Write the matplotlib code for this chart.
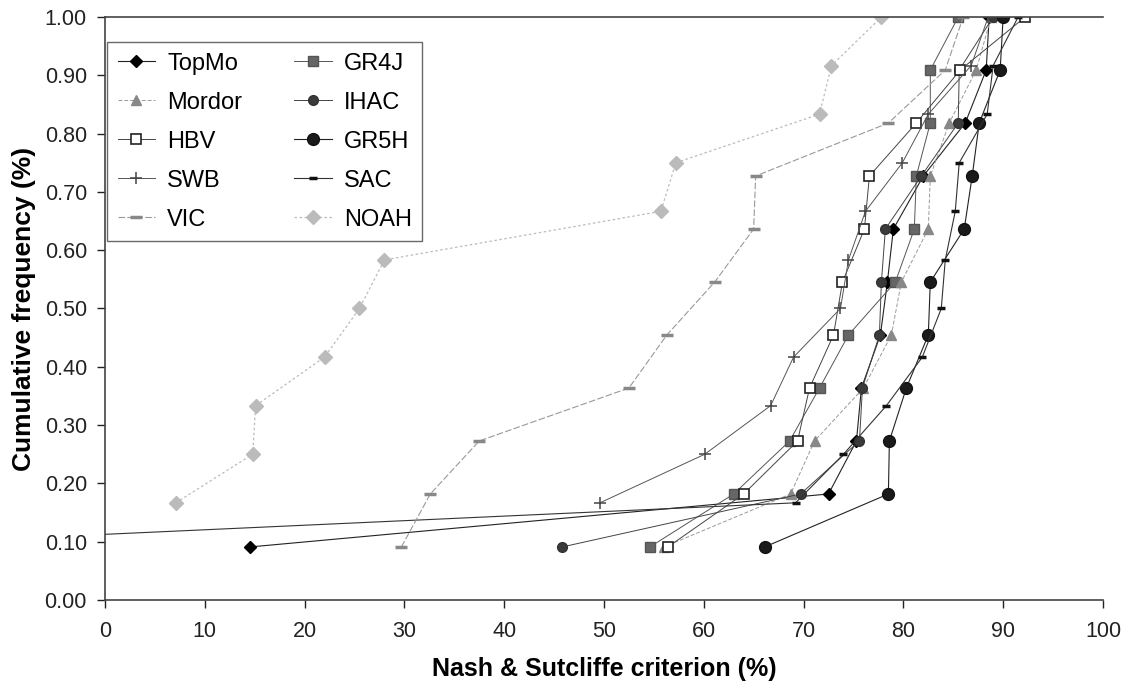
import matplotlib
matplotlib.use("Agg")
import matplotlib.pyplot as plt
import numpy as np

plt.rcParams['font.family'] = ['Liberation Sans', 'DejaVu Sans']

# cumulative frequency levels
freq11 = [i / 11 for i in range(1, 12)]
freq12_from2 = [i / 12 for i in range(2, 13)]
freq12 = [i / 12 for i in range(1, 13)]

# Nash & Sutcliffe values (%)
topmo = [14.5, 72.5, 75.3, 75.8, 77.7, 78.4, 79.0, 82.0, 86.2, 88.3, 88.6]
gr4j = [54.6, 63.0, 68.6, 71.6, 74.5, 79.2, 81.1, 81.3, 82.7, 82.7, 85.5]
mordor = [56.0, 68.7, 71.1, 76.0, 78.8, 79.8, 82.5, 82.7, 84.6, 87.3, 88.8]
ihac = [45.8, 69.7, 75.6, 75.9, 77.6, 77.8, 78.2, 81.8, 85.5, 85.6, 89.0]
hbv = [56.4, 64.0, 69.4, 70.6, 73.0, 73.9, 76.1, 76.6, 81.3, 85.7, 92.2]
gr5h = [66.1, 78.5, 78.6, 80.3, 82.5, 82.7, 86.1, 86.9, 87.6, 89.7, 90.0]
swb = [49.6, 60.1, 66.7, 69.0, 73.7, 74.5, 76.2, 79.9, 82.5, 86.8, 88.5]
sac = [-37.5, 69.2, 74.0, 78.3, 81.9, 83.8, 84.2, 85.2, 85.6, 88.4, 89.0, 91.5]
vic = [29.7, 32.6, 37.5, 52.5, 56.3, 61.1, 65.0, 65.2, 78.5, 84.2, 86.0]
noah = [7.1, 14.8, 15.1, 22.0, 25.5, 28.0, 55.7, 57.2, 71.6, 72.8, 77.8]

fig = plt.figure(figsize=(11.31, 6.89), dpi=100)
ax = fig.add_axes([0.0928, 0.1292, 0.8824, 0.8461])

lines = {}
lines['TopMo'] = ax.plot(topmo, freq11, color='#222222', lw=0.8, marker='D', ms=6,
                         mfc='black', mec='black')[0]
lines['GR4J'] = ax.plot(gr4j, freq11, color='#555555', lw=0.7, marker='s', ms=7,
                        mfc='#666666', mec='#555555')[0]
lines['Mordor'] = ax.plot(mordor, freq11, color='#999999', lw=0.7, ls=(0, (4, 2)), marker='^', ms=7,
                          mfc='#888888', mec='#888888')[0]
lines['IHAC'] = ax.plot(ihac, freq11, color='#444444', lw=0.7, marker='o', ms=7,
                        mfc='#3a3a3a', mec='#333333')[0]
lines['HBV'] = ax.plot(hbv, freq11, color='#444444', lw=0.7, marker='s', ms=7.5,
                       mfc='white', mec='#222222', mew=1.2)[0]
lines['GR5H'] = ax.plot(gr5h, freq11, color='#222222', lw=0.8, marker='o', ms=8.5,
                        mfc='#1a1a1a', mec='#111111')[0]
lines['SWB'] = ax.plot(swb, freq12_from2, color='#555555', lw=0.7, marker='+', ms=9,
                       mew=1.1, mec='#444444')[0]
lines['SAC'] = ax.plot(sac, freq12, color='#333333', lw=0.8, marker='_', ms=6,
                       mew=2.5, mec='#111111')[0]
lines['VIC'] = ax.plot(vic, freq11, color='#999999', lw=0.8, ls=(0, (6, 2)), marker='_', ms=8,
                       mew=2.5, mec='#888888')[0]
lines['NOAH'] = ax.plot(noah, freq12_from2, color='#bbbbbb', lw=0.9, ls=(0, (2, 2)), marker='D', ms=7,
                        mfc='#bbbbbb', mec='#bbbbbb')[0]

ax.set_xlim(0, 100)
ax.set_ylim(0, 1.0)
ax.set_xticks(np.arange(0, 101, 10))
ax.set_yticks(np.arange(0, 1.01, 0.1))
ax.set_yticklabels([f"{v:.2f}" for v in np.arange(0, 1.01, 0.1)])
ax.tick_params(direction='out', length=6, labelsize=15.5, colors='#222222', width=1)
ax.tick_params(axis='x', pad=9)
ax.tick_params(axis='y', pad=7)
ax.spines['right'].set_visible(False)
for s in ['left', 'bottom', 'top']:
    ax.spines[s].set_color('#444444')
    ax.spines[s].set_linewidth(1.2)

ax.set_xlabel('Nash & Sutcliffe criterion (%)', fontsize=18, fontweight='bold', labelpad=11)
ax.set_ylabel('Cumulative frequency (%)', fontsize=19, fontweight='bold', labelpad=6)

order = ['TopMo', 'Mordor', 'HBV', 'SWB', 'VIC', 'GR4J', 'IHAC', 'GR5H', 'SAC', 'NOAH']
leg = ax.legend([lines[k] for k in order], order, ncol=2, loc='upper left',
                bbox_to_anchor=(0.002, 0.957), borderaxespad=0, fontsize=17, frameon=True,
                fancybox=False, edgecolor='#444444', markerscale=1.0, handlelength=1.6,
                handletextpad=0.5, columnspacing=2.2, labelspacing=0.72, borderpad=0.45)
leg.get_frame().set_linewidth(1.0)

fig.savefig('out.png', dpi=100)
